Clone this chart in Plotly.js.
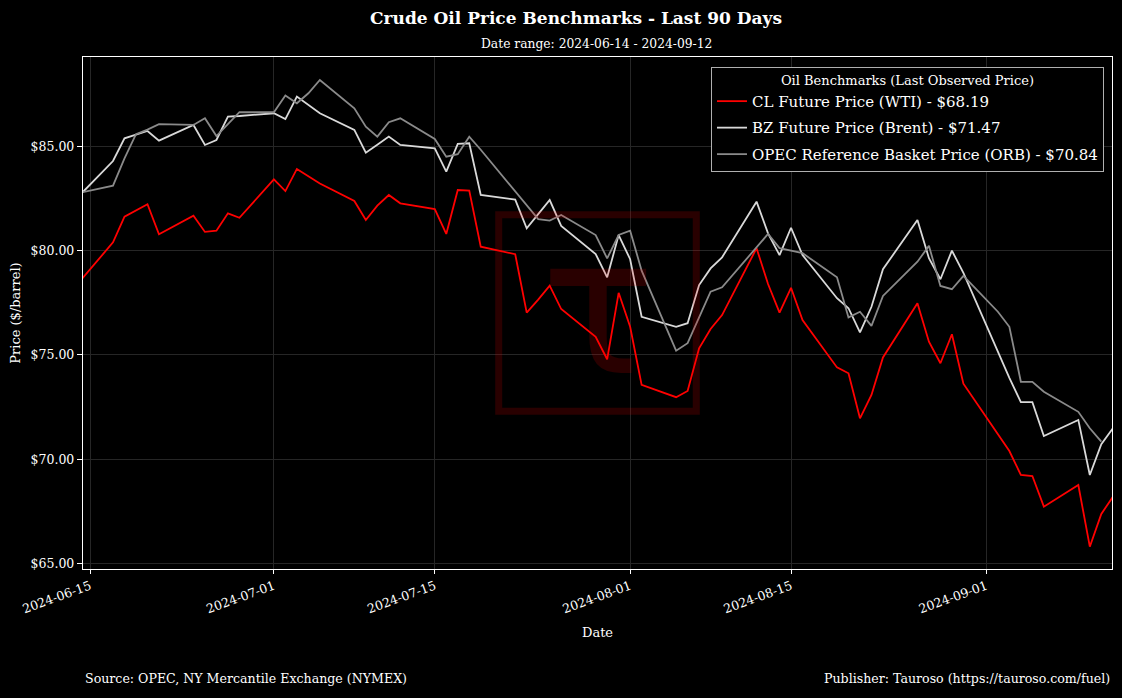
<!DOCTYPE html>
<html>
<head>
<meta charset="utf-8">
<script src="https://cdn.plot.ly/plotly-3.0.1.min.js"></script>
<style>
html,body{margin:0;padding:0;background:#000;}
#chart{width:1122px;height:698px;}
</style>
</head>
<body>
<div id="chart"></div>
<script>
// ---- Data ----
const usDates = [
  "2024-06-14","2024-06-17","2024-06-18","2024-06-20","2024-06-21","2024-06-24","2024-06-25","2024-06-26","2024-06-27","2024-06-28",
  "2024-07-01","2024-07-02","2024-07-03","2024-07-05","2024-07-08","2024-07-09","2024-07-10","2024-07-11","2024-07-12",
  "2024-07-15","2024-07-16","2024-07-17","2024-07-18","2024-07-19","2024-07-22","2024-07-23","2024-07-24","2024-07-25","2024-07-26",
  "2024-07-29","2024-07-30","2024-07-31","2024-08-01","2024-08-02","2024-08-05","2024-08-06","2024-08-07","2024-08-08","2024-08-09",
  "2024-08-12","2024-08-13","2024-08-14","2024-08-15","2024-08-16","2024-08-19","2024-08-20","2024-08-21","2024-08-22","2024-08-23",
  "2024-08-26","2024-08-27","2024-08-28","2024-08-29","2024-08-30","2024-09-03","2024-09-04","2024-09-05","2024-09-06",
  "2024-09-09","2024-09-10","2024-09-11","2024-09-12"
];
const wtiPrices = [
  78.45,80.40,81.63,82.23,80.79,81.68,80.90,80.96,81.79,81.58,
  83.42,82.86,83.92,83.22,82.38,81.47,82.16,82.67,82.27,
  81.99,80.80,82.91,82.88,80.19,79.83,77.03,77.65,78.32,77.20,
  75.87,74.79,77.98,76.35,73.56,72.97,73.27,75.32,76.24,76.91,
  80.12,78.40,77.03,78.22,76.67,74.40,74.12,71.96,73.08,74.88,
  77.48,75.63,74.60,75.99,73.62,70.39,69.24,69.19,67.72,
  68.76,65.80,67.37,68.19
];
const brentPrices = [
  82.60,84.30,85.39,85.74,85.28,86.03,85.07,85.31,86.43,86.46,
  86.59,86.31,87.39,86.59,85.79,84.70,85.08,85.47,85.07,
  84.91,83.79,85.12,85.15,82.67,82.45,81.07,81.75,82.43,81.19,
  79.84,78.72,80.75,79.59,76.83,76.35,76.52,78.35,79.15,79.68,
  82.35,80.83,79.79,81.10,79.79,77.72,77.24,76.08,77.31,79.11,
  81.47,79.64,78.63,80.00,78.94,73.90,72.73,72.73,71.11,
  71.88,69.24,70.72,71.47
];
const orbDates = [
  "2024-06-14","2024-06-17","2024-06-18","2024-06-19","2024-06-20","2024-06-21","2024-06-24","2024-06-25","2024-06-26","2024-06-27","2024-06-28",
  "2024-07-01","2024-07-02","2024-07-03","2024-07-04","2024-07-05","2024-07-08","2024-07-09","2024-07-10","2024-07-11","2024-07-12",
  "2024-07-15","2024-07-16","2024-07-17","2024-07-18","2024-07-19","2024-07-22","2024-07-23","2024-07-24","2024-07-25","2024-07-26",
  "2024-07-29","2024-07-30","2024-07-31","2024-08-01","2024-08-02","2024-08-05","2024-08-06","2024-08-07","2024-08-08","2024-08-09",
  "2024-08-12","2024-08-13","2024-08-14","2024-08-15","2024-08-16","2024-08-19","2024-08-20","2024-08-21","2024-08-22","2024-08-23",
  "2024-08-26","2024-08-27","2024-08-28","2024-08-29","2024-08-30","2024-09-02","2024-09-03","2024-09-04","2024-09-05","2024-09-06",
  "2024-09-09","2024-09-10","2024-09-11"
];
const orbPrices = [
  82.76,83.12,84.43,85.59,85.81,86.07,86.03,86.35,85.50,86.08,86.64,
  86.64,87.44,87.07,87.55,88.19,86.83,85.95,85.47,86.16,86.35,
  85.36,84.51,84.63,85.47,84.84,82.83,82.14,81.51,81.44,81.71,
  80.75,79.63,80.75,80.96,79.04,75.20,75.56,76.83,78.03,78.24,
  80.19,80.80,80.12,79.99,79.88,78.72,76.80,77.07,76.39,77.83,
  79.47,80.23,78.31,78.15,78.79,77.07,76.35,73.71,73.71,73.23,
  72.27,71.48,70.84
];
const seriesNames = [
  "CL Future Price (WTI) - $68.19",
  "BZ Future Price (Brent) - $71.47",
  "OPEC Reference Basket Price (ORB) - $70.84"
];
const xTickVals = ["2024-06-15","2024-07-01","2024-07-15","2024-08-01","2024-08-15","2024-09-01"];
const xTickText = ["2024-06-15","2024-07-01","2024-07-15","2024-08-01","2024-08-15","2024-09-01"];
const yTickVals = [65,70,75,80,85];
const yTickText = ["$65.00","$70.00","$75.00","$80.00","$85.00"];

// ---- Chart ----
const FONT = "DejaVu Serif, Liberation Serif, serif";
const traces = [
  {x: usDates, y: wtiPrices, name: seriesNames[0], legendgroup: "g1", type: "scatter", mode: "lines",
   line: {color: "#ff0000", width: 1.8}},
  {x: usDates, y: brentPrices, name: seriesNames[1], legendgroup: "g2", type: "scatter", mode: "lines",
   line: {color: "#d9d9d9", width: 1.8}},
  {x: orbDates, y: orbPrices, name: seriesNames[2], legendgroup: "g3", type: "scatter", mode: "lines",
   line: {color: "#8a8a8a", width: 1.8}}
];

const layout = {
  width: 1122, height: 698,
  paper_bgcolor: "#000", plot_bgcolor: "#000",
  font: {family: FONT, color: "#ffffff", size: 12},
  margin: {l: 83, r: 10, t: 57, b: 129, autoexpand: false},
  showlegend: true,
  title: {text: "<b>Crude Oil Price Benchmarks - Last 90 Days</b>",
          font: {family: FONT, size: 17, color: "#fff"},
          x: 0.5134, xanchor: "center", xref: "container",
          y: 0.974, yanchor: "middle", yref: "container"},
  xaxis: {
    type: "date",
    range: ["2024-06-14 09:20", "2024-09-11 22:20"],
    tickvals: xTickVals, ticktext: xTickText, tickangle: -20,
    tickfont: {family: FONT, size: 12.5, color: "#fff"},
    ticks: "outside", ticklen: 4, tickcolor: "#fff", tickwidth: 1,
    showline: true, linecolor: "#fff", linewidth: 1.2, mirror: true,
    showgrid: true, gridcolor: "#262626", gridwidth: 1,
    zeroline: false,
    title: {text: "Date", font: {family: FONT, size: 13, color: "#fff"}, standoff: 12}
  },
  yaxis: {
    range: [64.73, 89.29],
    tickvals: yTickVals, ticktext: yTickText,
    tickfont: {family: FONT, size: 12.5, color: "#fff"},
    ticks: "outside", ticklen: 5, tickcolor: "#fff", tickwidth: 1,
    showline: true, linecolor: "#fff", linewidth: 1.2, mirror: true,
    showgrid: true, gridcolor: "#262626", gridwidth: 1,
    zeroline: false,
    title: {text: "Price ($/barrel)", font: {family: FONT, size: 13, color: "#fff"}, standoff: 7}
  },
  legend: {
    x: 0.9922, xanchor: "right", y: 0.9805, yanchor: "top",
    bgcolor: "#000", bordercolor: "#b0b0b0", borderwidth: 1,
    font: {family: FONT, size: 15, color: "#fff"},
    title: {text: "Oil Benchmarks (Last Observed Price)", side: "top center",
            font: {family: FONT, size: 13, color: "#fff"}},
    tracegroupgap: 4, itemwidth: 30
  },
  shapes: [
    {type: "rect", xref: "paper", yref: "paper", x0: 0.4040, x1: 0.5960, y0: 0.3080, y1: 0.6920,
     line: {color: "rgba(255,0,0,0.16)", width: 7}, fillcolor: "rgba(0,0,0,0)", layer: "above"}
  ],
  annotations: [
    {text: "Date range: 2024-06-14 - 2024-09-12", xref: "paper", yref: "paper",
     x: 0.4995, y: 1.0254, xanchor: "center", yanchor: "middle", showarrow: false,
     font: {family: FONT, size: 12.3, color: "#fff"}},
    {text: "τ", xref: "paper", yref: "paper", x: 0.5, y: 0.51, xanchor: "center", yanchor: "middle",
     showarrow: false, font: {family: "DejaVu Sans, sans-serif", size: 190, color: "rgba(255,0,0,0.16)"}},
    {text: "Source: OPEC, NY Mercantile Exchange (NYMEX)", xref: "paper", yref: "paper",
     x: 0, y: -0.2148, xanchor: "left", yanchor: "middle", showarrow: false,
     font: {family: FONT, size: 12.6, color: "#fff"}},
    {text: "Publisher: Tauroso (https://tauroso.com/fuel)", xref: "paper", yref: "paper",
     x: 1, y: -0.2148, xanchor: "right", yanchor: "middle", showarrow: false,
     font: {family: FONT, size: 12.6, color: "#fff"}}
  ]
};

Plotly.newPlot("chart", traces, layout, {staticPlot: true, displayModeBar: false});
</script>
</body>
</html>
